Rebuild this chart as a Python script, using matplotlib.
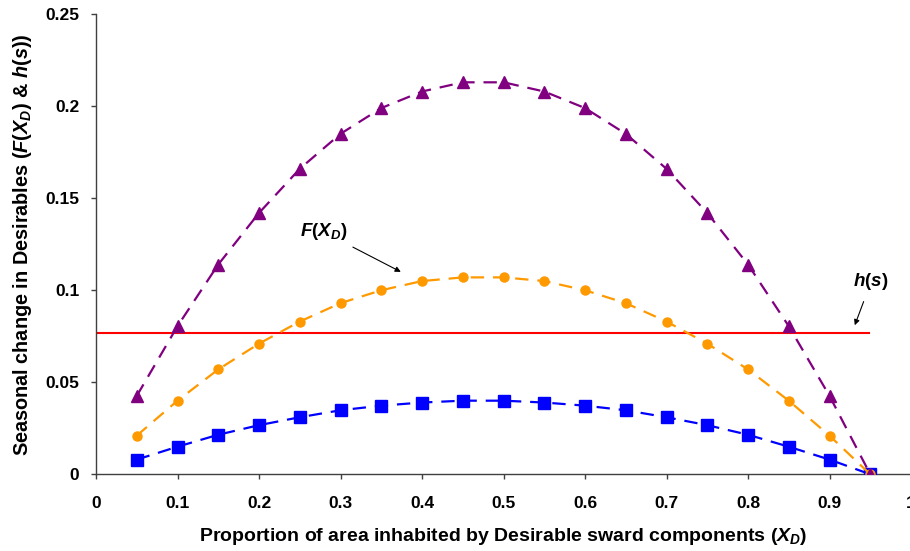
import matplotlib
matplotlib.use("Agg")
import matplotlib.pyplot as plt

plt.rcParams['font.family'] = ['Liberation Sans', 'DejaVu Sans']
plt.rcParams['font.weight'] = 'bold'
plt.rcParams['axes.labelweight'] = 'bold'
plt.rcParams['mathtext.fontset'] = 'custom'
plt.rcParams['mathtext.rm'] = 'Liberation Sans:bold'
plt.rcParams['mathtext.it'] = 'Liberation Sans:italic:bold'
plt.rcParams['mathtext.bf'] = 'Liberation Sans:bold'

# proportion of area inhabited by Desirables
x_d = [0.05, 0.1, 0.15, 0.2, 0.25, 0.3, 0.35, 0.4, 0.45, 0.5,
       0.55, 0.6, 0.65, 0.7, 0.75, 0.8, 0.85, 0.9, 0.95]

purple_vals = [0.0426, 0.0805, 0.114, 0.142, 0.166, 0.185, 0.199, 0.208, 0.213, 0.213,
               0.208, 0.199, 0.185, 0.166, 0.142, 0.114, 0.0805, 0.0426, 0.0]
orange_vals = [0.021, 0.040, 0.057, 0.071, 0.083, 0.093, 0.100, 0.105, 0.107, 0.107,
               0.105, 0.100, 0.093, 0.083, 0.071, 0.057, 0.040, 0.021, 0.0]
blue_vals = [0.008, 0.015, 0.0215, 0.0267, 0.031, 0.0348, 0.0373, 0.039, 0.040, 0.040,
             0.039, 0.0373, 0.0348, 0.031, 0.0267, 0.0215, 0.015, 0.008, 0.0]

h_s = 0.077
h_x = [0.0, 0.948]

fig = plt.figure(figsize=(9.1, 5.51), dpi=100)
ax = fig.add_axes([0.1055, 0.1392, 0.8956, 0.835])

dash = (6, 4)
ax.plot(x_d, blue_vals, color='#0000FF', lw=1.6, dashes=dash,
        marker='s', ms=9, mec='#0000FF', zorder=3)
ax.plot(x_d, orange_vals, color='#FF9900', lw=1.6, dashes=dash,
        marker='o', ms=6.5, mec='#FF9900', zorder=4)
ax.plot(x_d, purple_vals, color='#800080', lw=1.6, dashes=dash,
        marker='^', ms=8, mec='#800080', zorder=5)
ax.plot(h_x, [h_s, h_s], color='#FF0000', lw=1.5, zorder=2)

ax.annotate(r'$F(X_D)$', xy=(0.374, 0.110), xytext=(0.25, 0.1317),
            fontsize=13.5, ha='left', va='center',
            arrowprops=dict(arrowstyle='-|>', color='black', lw=0.8,
                            shrinkA=3, shrinkB=0, mutation_scale=8))
ax.annotate(r'$h(s)$', xy=(0.931, 0.081), xytext=(0.951, 0.1046),
            fontsize=13.5, ha='center', va='center',
            arrowprops=dict(arrowstyle='-|>', color='black', lw=0.8,
                            shrinkA=5, shrinkB=0, mutation_scale=8))

ax.set_xlim(0, 1)
ax.set_ylim(0, 0.25)
ax.set_xticks([0, 0.1, 0.2, 0.3, 0.4, 0.5, 0.6, 0.7, 0.8, 0.9, 1])
ax.set_xticklabels(['0', '0.1', '0.2', '0.3', '0.4', '0.5', '0.6', '0.7', '0.8', '0.9', '1'])
ax.set_yticks([0, 0.05, 0.1, 0.15, 0.2, 0.25])
ax.set_yticklabels(['0', '0.05', '0.1', '0.15', '0.2', '0.25'])
ax.tick_params(labelsize=12.5, length=3.6, width=1, color='#404040')
ax.tick_params(axis='x', pad=12)
ax.tick_params(axis='y', pad=8.5)
for s in ['top', 'right']:
    ax.spines[s].set_visible(False)
for s in ['left', 'bottom']:
    ax.spines[s].set_color('#404040')
    ax.spines[s].set_linewidth(1)

ax.set_xlabel(r'Proportion of area inhabited by Desirable sward components ($X_D$)',
              fontsize=14, labelpad=11)
ax.set_ylabel(r'Seasonal change in Desirables ($F(X_D)$ & $h(s)$)',
              fontsize=14.3, labelpad=8)

fig.savefig('out.png', dpi=100)
